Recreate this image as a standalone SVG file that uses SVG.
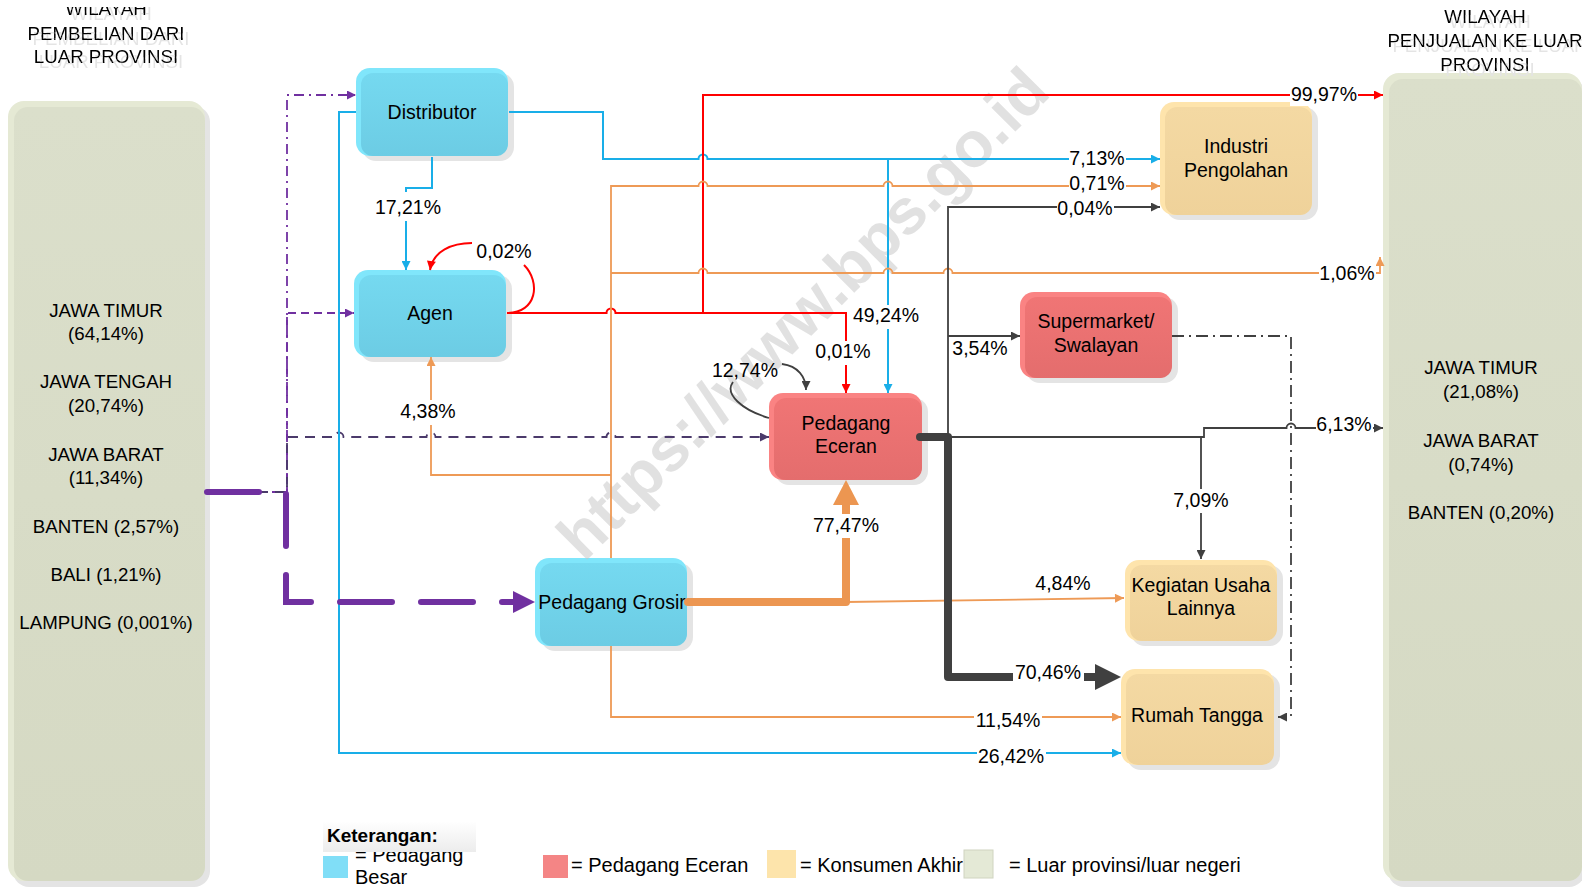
<svg xmlns="http://www.w3.org/2000/svg" width="1582" height="887" viewBox="0 0 1582 887">
<defs>
<style>
.t{font-family:"Liberation Sans",Arial,sans-serif;fill:#000}
.n{font-size:19.5px;text-anchor:middle}
.l{font-size:19.5px;text-anchor:middle}
.r{font-size:18.7px;text-anchor:middle}
.lg{font-size:20px}
.sh{fill:#e4e4e4}
.bg{fill:#fff}
.cb{stroke:#19aee8;stroke-width:2;fill:none}
.cr{stroke:#ff0000;stroke-width:2;fill:none}
.co{stroke:#ee9a56;stroke-width:1.8;fill:none}
.cg{stroke:#404040;stroke-width:1.8;fill:none}
.cp{stroke:#7030a0;stroke-width:1.8;fill:none}
.cd{stroke:#4b3a6b;stroke-width:1.8;fill:none;stroke-dasharray:10 7}
</style>
<filter id="ghost" x="-10%" y="-40%" width="130%" height="200%"><feOffset in="SourceAlpha" dx="5" dy="5" result="o"/><feFlood flood-color="#e4e4e4"/><feComposite in2="o" operator="in" result="s"/><feMerge><feMergeNode in="s"/><feMergeNode in="SourceGraphic"/></feMerge></filter>
<linearGradient id="gB" x1="0" y1="0" x2="0" y2="1"><stop offset="0" stop-color="#75d9f0"/><stop offset="1" stop-color="#6ccce4"/></linearGradient>
<linearGradient id="gR" x1="0" y1="0" x2="0" y2="1"><stop offset="0" stop-color="#f07575"/><stop offset="1" stop-color="#e46d6d"/></linearGradient>
<linearGradient id="gY" x1="0" y1="0" x2="0" y2="1"><stop offset="0" stop-color="#f4d9a3"/><stop offset="1" stop-color="#efd29a"/></linearGradient>
<linearGradient id="gG" x1="0" y1="0" x2="0" y2="1"><stop offset="0" stop-color="#dbdfcb"/><stop offset="1" stop-color="#d5d9c3"/></linearGradient>
<linearGradient id="gK" x1="0" y1="0" x2="0" y2="1"><stop offset="0" stop-color="#ffffff"/><stop offset="1" stop-color="#ececec"/></linearGradient>
<marker id="aB" viewBox="0 0 10 10" refX="10" refY="5" markerWidth="10" markerHeight="9" markerUnits="userSpaceOnUse" orient="auto"><path d="M0,0L10,5L0,10z" fill="#19aee8"/></marker>
<marker id="aR" viewBox="0 0 10 10" refX="10" refY="5" markerWidth="10" markerHeight="9" markerUnits="userSpaceOnUse" orient="auto"><path d="M0,0L10,5L0,10z" fill="#ff0000"/></marker>
<marker id="aO" viewBox="0 0 10 10" refX="10" refY="5" markerWidth="10" markerHeight="9" markerUnits="userSpaceOnUse" orient="auto"><path d="M0,0L10,5L0,10z" fill="#ee9a56"/></marker>
<marker id="aG" viewBox="0 0 10 10" refX="10" refY="5" markerWidth="10" markerHeight="9" markerUnits="userSpaceOnUse" orient="auto"><path d="M0,0L10,5L0,10z" fill="#404040"/></marker>
<marker id="aP" viewBox="0 0 10 10" refX="10" refY="5" markerWidth="10" markerHeight="9" markerUnits="userSpaceOnUse" orient="auto"><path d="M0,0L10,5L0,10z" fill="#7030a0"/></marker>
<marker id="aD" viewBox="0 0 10 10" refX="10" refY="5" markerWidth="10" markerHeight="9" markerUnits="userSpaceOnUse" orient="auto"><path d="M0,0L10,5L0,10z" fill="#4b3a6b"/></marker>
<clipPath id="clipT"><rect x="0" y="7" width="300" height="80"/></clipPath>
</defs>
<rect width="1582" height="887" fill="#fff"/>

<g id="region-left">
<rect class="sh" x="13" y="106" width="197" height="781" rx="16"/>
<rect x="8" y="101" width="197" height="780" rx="16" fill="#e5e9d4"/>
<rect x="14" y="107" width="191" height="774" rx="14" fill="url(#gG)"/>
<g clip-path="url(#clipT)">
<text class="t r" x="106" y="15" filter="url(#ghost)">WILAYAH</text>
</g>
<text class="t r" x="106" y="40" filter="url(#ghost)">PEMBELIAN DARI</text>
<text class="t r" x="106" y="63" filter="url(#ghost)">LUAR PROVINSI</text>
<text class="t r" x="106" y="317">JAWA TIMUR</text>
<text class="t r" x="106" y="340">(64,14%)</text>
<text class="t r" x="106" y="388">JAWA TENGAH</text>
<text class="t r" x="106" y="412">(20,74%)</text>
<text class="t r" x="106" y="461">JAWA BARAT</text>
<text class="t r" x="106" y="484">(11,34%)</text>
<text class="t r" x="106" y="533">BANTEN (2,57%)</text>
<text class="t r" x="106" y="581">BALI (1,21%)</text>
<text class="t r" x="106" y="629">LAMPUNG (0,001%)</text>
</g>

<g id="region-right">
<rect class="sh" x="1388" y="78" width="197" height="809" rx="16"/>
<rect x="1383" y="73" width="199" height="808" rx="16" fill="#e5e9d4"/>
<rect x="1389" y="79" width="193" height="802" rx="14" fill="url(#gG)"/>
<text class="t r" x="1485" y="23" filter="url(#ghost)">WILAYAH</text>
<text class="t r" x="1485" y="47" filter="url(#ghost)">PENJUALAN KE LUAR</text>
<text class="t r" x="1485" y="71" filter="url(#ghost)">PROVINSI</text>
<text class="t r" x="1481" y="374">JAWA TIMUR</text>
<text class="t r" x="1481" y="398">(21,08%)</text>
<text class="t r" x="1481" y="447">JAWA BARAT</text>
<text class="t r" x="1481" y="471">(0,74%)</text>
<text class="t r" x="1481" y="519">BANTEN (0,20%)</text>
</g>

<g id="n-distributor">
<rect class="sh" x="362" y="73" width="152" height="88" rx="14"/>
<rect x="356" y="68" width="152" height="88" rx="14" fill="#80e6fb"/>
<rect x="361" y="73" width="147" height="83" rx="12" fill="url(#gB)"/>
<text class="t n" x="432" y="119">Distributor</text>
</g>
<g id="n-agen">
<rect class="sh" x="360" y="275" width="152" height="87" rx="14"/>
<rect x="354" y="270" width="152" height="87" rx="14" fill="#80e6fb"/>
<rect x="359" y="275" width="147" height="82" rx="12" fill="url(#gB)"/>
<text class="t n" x="430" y="320">Agen</text>
</g>
<g id="n-grosir">
<rect class="sh" x="541" y="563" width="152" height="88" rx="14"/>
<rect x="535" y="558" width="152" height="88" rx="14" fill="#80e6fb"/>
<rect x="540" y="563" width="147" height="83" rx="12" fill="url(#gB)"/>
<text class="t n" x="612" y="609">Pedagang Grosir</text>
</g>
<g id="n-eceran">
<rect class="sh" x="775" y="398" width="153" height="87" rx="14"/>
<rect x="769" y="393" width="153" height="87" rx="14" fill="#fa8383"/>
<rect x="774" y="398" width="148" height="82" rx="12" fill="url(#gR)"/>
<text class="t n" x="846" y="430">Pedagang</text>
<text class="t n" x="846" y="453">Eceran</text>
</g>
<g id="n-supermarket">
<rect class="sh" x="1026" y="297" width="152" height="86" rx="14"/>
<rect x="1020" y="292" width="152" height="86" rx="14" fill="#fa8383"/>
<rect x="1025" y="297" width="147" height="81" rx="12" fill="url(#gR)"/>
<text class="t n" x="1096" y="328">Supermarket/</text>
<text class="t n" x="1096" y="352">Swalayan</text>
</g>
<g id="n-industri">
<rect class="sh" x="1166" y="107" width="152" height="113" rx="14"/>
<rect x="1160" y="102" width="152" height="113" rx="14" fill="#fee4ac"/>
<rect x="1165" y="107" width="147" height="108" rx="12" fill="url(#gY)"/>
<text class="t n" x="1236" y="153">Industri</text>
<text class="t n" x="1236" y="177">Pengolahan</text>
</g>
<g id="n-kegiatan">
<rect class="sh" x="1131" y="565" width="152" height="81" rx="14"/>
<rect x="1125" y="560" width="152" height="81" rx="14" fill="#fee4ac"/>
<rect x="1130" y="565" width="147" height="76" rx="12" fill="url(#gY)"/>
<text class="t n" x="1201" y="592">Kegiatan Usaha</text>
<text class="t n" x="1201" y="615">Lainnya</text>
</g>
<g id="n-rumahtangga">
<rect class="sh" x="1127" y="674" width="153" height="96" rx="14"/>
<rect x="1121" y="669" width="153" height="96" rx="14" fill="#fee4ac"/>
<rect x="1126" y="674" width="148" height="91" rx="12" fill="url(#gY)"/>
<text class="t n" x="1197" y="722">Rumah Tangga</text>
</g>

<text x="584" y="563" transform="rotate(-45 584 563)" font-family="Liberation Sans, Arial, sans-serif" font-weight="bold" font-size="64" fill="#c4c4c4" opacity="0.5">https://www.bps.go.id</text>

<g id="connectors">
<path class="cp" d="M207,492H287V95H356" stroke-dasharray="10 5 2 5" marker-end="url(#aP)"/>
<path class="cp" d="M207,492H287V313H354" stroke-dasharray="8 5" marker-end="url(#aP)"/>
<path class="cd" d="M207,492H287V437H334.5a4.5,4.5 0 0 1 9,0H426.5a4.5,4.5 0 0 1 9,0H606.5a4.5,4.5 0 0 1 9,0H769" marker-end="url(#aD)"/>
<path class="cb" d="M356,112H339V753H1121" marker-end="url(#aB)"/>
<path class="cb" d="M432,157V188H406V270" marker-end="url(#aB)"/>
<path class="cb" d="M509,112H603V159H698.5a4.5,4.5 0 0 1 9,0H1160" marker-end="url(#aB)"/>
<path class="cb" d="M888,159V393" marker-end="url(#aB)"/>
<path class="cr" d="M507,313H606.5a4.5,4.5 0 0 1 9,0H846V393" marker-end="url(#aR)"/>
<path class="cr" d="M703,313V95H1383" marker-end="url(#aR)"/>
<path class="cr" d="M507,313C537,313 541,282 524,265"/>
<path class="cr" d="M472,243C452,243 433,251 430,270" marker-end="url(#aR)"/>
<path class="co" d="M611,558V186H698.5a4.5,4.5 0 0 1 9,0H883.5a4.5,4.5 0 0 1 9,0H1160" marker-end="url(#aO)"/>
<path class="co" d="M611,273H698.5a4.5,4.5 0 0 1 9,0H883.5a4.5,4.5 0 0 1 9,0H943.5a4.5,4.5 0 0 1 9,0H1380V257" marker-end="url(#aO)"/>
<path class="co" d="M611,475H431V357" marker-end="url(#aO)"/>
<path class="co" d="M611,646V717H1121" marker-end="url(#aO)"/>
<path class="co" d="M846,602L1124,598" marker-end="url(#aO)"/>
<path d="M688,602H846V505" stroke="#ec9651" stroke-width="8" fill="none" stroke-linejoin="round" stroke-linecap="round"/>
<polygon points="833,505 846,480 859,505" fill="#ec9651"/>
<path class="cg" d="M948,437V207H1160" marker-end="url(#aG)"/>
<path class="cg" d="M948,336H1020" marker-end="url(#aG)"/>
<path class="cg" d="M948,437H1204V428H1286.5a4.5,4.5 0 0 1 9,0H1383" marker-end="url(#aG)"/>
<path class="cg" d="M1201,437V559" marker-end="url(#aG)"/>
<path class="cg" d="M1172,336H1291V717H1278" stroke-dasharray="12 5 2 5" marker-end="url(#aG)"/>
<path class="cg" d="M769,418C742,410 724,394 733,382"/>
<path class="cg" d="M782,364C798,366 806,377 806,390" marker-end="url(#aG)"/>
<path d="M920,437H948V677H1096" stroke="#404040" stroke-width="8" fill="none" stroke-linejoin="round" stroke-linecap="round"/>
<polygon points="1095,664 1121,677 1095,690" fill="#404040"/>
<path d="M207,492H286V602H513" stroke="#7030a0" stroke-width="6" fill="none" stroke-linecap="round" stroke-dasharray="52 29"/>
<polygon points="513,591 535,602 513,613" fill="#7030a0"/>
</g>

<g id="labels">
<rect class="bg" x="374" y="192" width="68" height="29"/>
<text class="t l" x="408" y="214">17,21%</text>
<text class="t l" x="504" y="258">0,02%</text>
<rect class="bg" x="1290" y="86" width="68" height="20"/>
<text class="t l" x="1324" y="101">99,97%</text>
<rect class="bg" x="1069" y="150" width="57" height="19"/>
<text class="t l" x="1097" y="165">7,13%</text>
<rect class="bg" x="1069" y="176" width="57" height="18"/>
<text class="t l" x="1097" y="190">0,71%</text>
<rect class="bg" x="1057" y="199" width="57" height="20"/>
<text class="t l" x="1085" y="215">0,04%</text>
<rect class="bg" x="1319" y="265" width="57" height="20"/>
<text class="t l" x="1347" y="280">1,06%</text>
<rect class="bg" x="852" y="305" width="69" height="24"/>
<text class="t l" x="886" y="322">49,24%</text>
<rect class="bg" x="814" y="341" width="58" height="24"/>
<text class="t l" x="843" y="358">0,01%</text>
<text class="t l" x="745" y="377">12,74%</text>
<text class="t l" x="980" y="355">3,54%</text>
<rect class="bg" x="398" y="400" width="59" height="25"/>
<text class="t l" x="428" y="418">4,38%</text>
<rect class="bg" x="812" y="514" width="68" height="24"/>
<text class="t l" x="846" y="532">77,47%</text>
<text class="t l" x="1063" y="590">4,84%</text>
<rect class="bg" x="1013" y="660" width="71" height="24"/>
<text class="t l" x="1048" y="679">70,46%</text>
<rect class="bg" x="974" y="710" width="68" height="20"/>
<text class="t l" x="1008" y="727">11,54%</text>
<rect class="bg" x="977" y="745" width="69" height="21"/>
<text class="t l" x="1011" y="763">26,42%</text>
<rect class="bg" x="1172" y="489" width="58" height="24"/>
<text class="t l" x="1201" y="507">7,09%</text>
<rect class="bg" x="1316" y="413" width="57" height="20"/>
<text class="t l" x="1344" y="431">6,13%</text>
</g>

<g id="legend">
<rect x="323" y="856" width="25" height="22" fill="#80def7"/>
<text class="t lg" x="355" y="862">= Pedagang</text>
<text class="t lg" x="355" y="884">Besar</text>
<rect x="323" y="821" width="153" height="31" fill="url(#gK)"/>
<text class="t" x="327" y="842" font-size="19" font-weight="bold">Keterangan:</text>
<rect x="543" y="855" width="25" height="23" fill="#f48585"/>
<text class="t lg" x="571" y="872">= Pedagang Eceran</text>
<rect x="767" y="850" width="29" height="28" fill="#fde4ab"/>
<text class="t lg" x="800" y="872">= Konsumen Akhir</text>
<rect x="964" y="850" width="29" height="28" fill="#e4e9d6" stroke="#d0d4c0"/>
<text class="t lg" x="1009" y="872">= Luar provinsi/luar negeri</text>
</g>
</svg>
